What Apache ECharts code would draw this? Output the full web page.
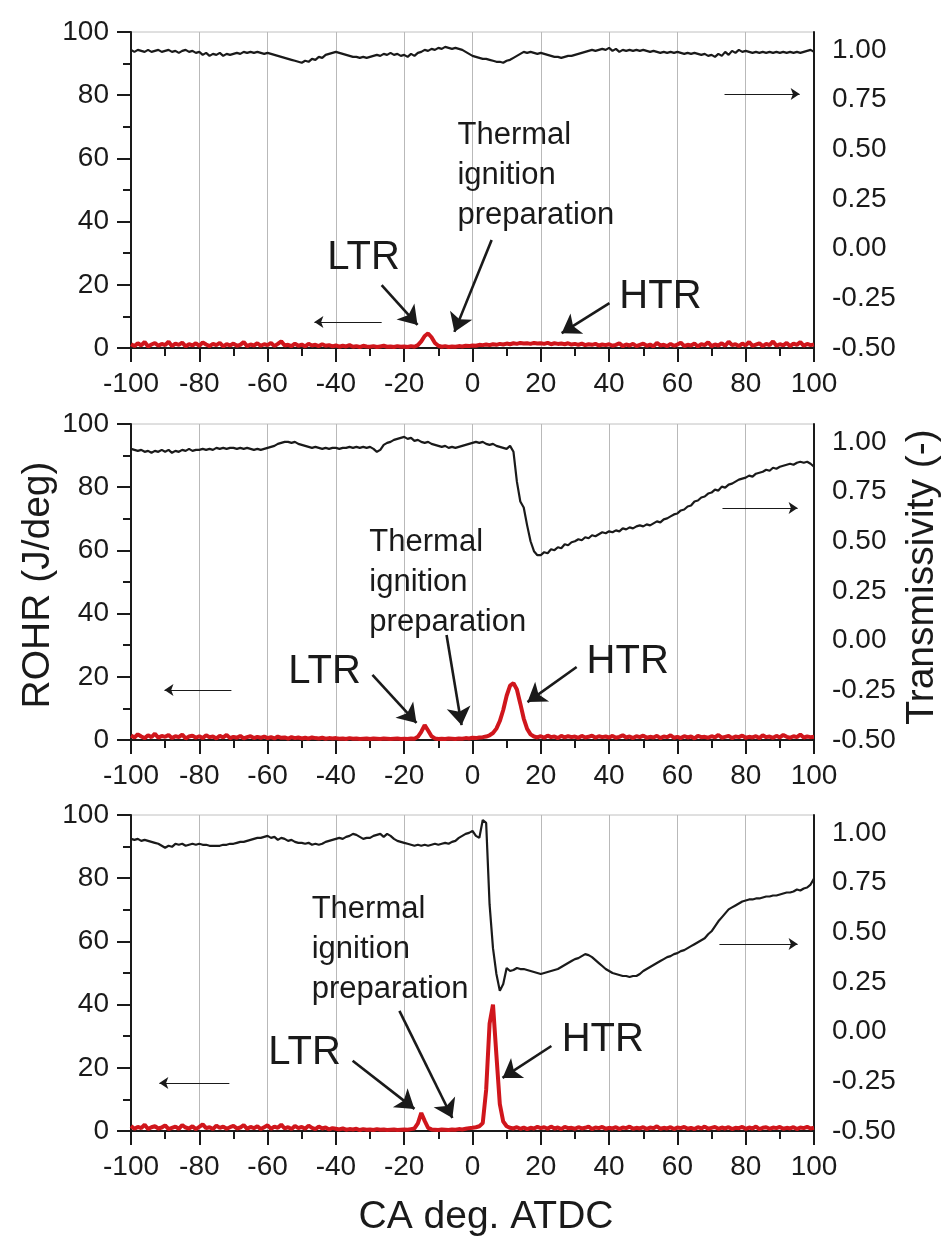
<!DOCTYPE html>
<html><head><meta charset="utf-8">
<script src="https://cdn.jsdelivr.net/npm/echarts/dist/echarts.min.js"></script>
<style>html,body{margin:0;padding:0;background:#fff}#c{width:951px;height:1244px}</style>
</head><body><div id="c"></div>
<script>
// Crank angle (deg ATDC)
const caDeg = [
-100,-99,-98,-97,-96,-95,-94,-93,-92,-91,
-90,-89,-88,-87,-86,-85,-84,-83,-82,-81,
-80,-79,-78,-77,-76,-75,-74,-73,-72,-71,
-70,-69,-68,-67,-66,-65,-64,-63,-62,-61,
-60,-59,-58,-57,-56,-55,-54,-53,-52,-51,
-50,-49,-48,-47,-46,-45,-44,-43,-42,-41,
-40,-39,-38,-37,-36,-35,-34,-33,-32,-31,
-30,-29,-28,-27,-26,-25,-24,-23,-22,-21,
-20,-19,-18,-17,-16,-15,-14,-13,-12,-11,
-10,-9,-8,-7,-6,-5,-4,-3,-2,-1,
0,1,2,3,4,5,6,7,8,9,
10,11,12,13,14,15,16,17,18,19,
20,21,22,23,24,25,26,27,28,29,
30,31,32,33,34,35,36,37,38,39,
40,41,42,43,44,45,46,47,48,49,
50,51,52,53,54,55,56,57,58,59,
60,61,62,63,64,65,66,67,68,69,
70,71,72,73,74,75,76,77,78,79,
80,81,82,83,84,85,86,87,88,89,
90,91,92,93,94,95,96,97,98,99,100];

// Panel 1 – ROHR (J/deg)
const rohr1 = [
1.2,0.6,1.5,0.8,1.9,0.5,1.1,1.6,0.7,1.3,
0.9,2.0,0.6,1.4,1.0,1.7,0.5,1.2,0.8,1.5,
0.7,1.8,1.1,0.6,1.3,0.9,1.6,0.5,1.2,0.8,
1.4,0.7,1.0,1.9,0.6,1.1,0.8,1.5,0.7,1.2,
0.9,1.6,0.6,1.3,2.1,0.8,1.0,0.6,1.4,0.7,
1.1,0.5,1.3,0.8,1.0,0.6,1.2,0.7,0.9,0.5,
0.8,0.4,0.7,0.5,0.9,0.4,0.6,0.3,0.7,0.5,
0.4,0.6,0.3,0.5,0.7,0.4,0.5,0.3,0.6,0.4,
0.5,0.3,0.6,0.4,0.9,2.1,3.8,4.6,3.4,1.6,
0.7,0.4,0.6,0.3,0.5,0.4,0.6,0.5,0.7,0.6,
0.8,0.7,1.0,0.9,1.1,0.9,1.2,1.0,1.3,1.1,
1.4,1.2,1.5,1.3,1.6,1.4,1.5,1.3,1.6,1.4,
1.5,1.3,1.6,1.2,1.5,1.3,1.4,1.2,1.5,1.1,
1.3,1.0,1.4,0.9,1.2,1.0,1.3,0.8,1.1,0.9,
1.2,0.7,1.0,1.5,0.6,1.1,0.8,1.3,0.6,1.0,
1.4,0.7,1.1,0.5,1.6,0.8,1.0,0.6,1.3,0.7,
1.1,1.7,0.6,1.0,0.8,1.4,0.5,1.2,0.9,1.8,
0.6,1.1,0.8,1.5,0.7,2.0,0.9,1.2,0.6,1.4,
0.8,1.9,0.7,1.1,1.5,0.6,1.3,0.9,2.1,0.7,
1.2,0.8,1.6,0.6,1.4,1.0,1.9,0.7,1.3,0.9,1.1];

// Panel 1 – Transmissivity (-)
const trans1 = [
1.00,0.99,1.00,0.995,0.99,1.00,0.99,0.995,1.00,0.99,
0.995,1.00,0.99,0.995,0.985,0.995,1.00,0.99,0.995,0.985,
0.99,0.975,0.985,0.97,0.98,0.975,0.985,0.97,0.98,0.975,
0.98,0.985,0.98,0.99,0.985,0.99,0.985,0.99,0.985,0.98,
0.985,0.98,0.975,0.97,0.965,0.96,0.955,0.95,0.945,0.94,
0.935,0.945,0.94,0.955,0.95,0.965,0.96,0.975,0.98,0.985,
0.99,0.985,0.98,0.975,0.97,0.965,0.965,0.96,0.965,0.96,
0.965,0.97,0.975,0.97,0.98,0.975,0.985,0.975,0.98,0.97,
0.975,0.965,0.98,0.97,0.985,0.99,1.00,0.995,1.005,1.00,
1.01,1.005,1.015,1.01,1.005,1.01,1.005,1.00,0.99,0.98,
0.97,0.965,0.96,0.955,0.955,0.95,0.945,0.94,0.94,0.935,
0.945,0.95,0.96,0.97,0.98,0.99,0.985,0.99,0.985,0.98,
0.985,0.98,0.975,0.97,0.965,0.965,0.96,0.965,0.97,0.97,
0.975,0.98,0.985,0.99,0.995,1.00,0.995,1.00,1.005,1.00,
1.01,0.995,1.005,0.99,1.00,0.995,1.00,0.995,1.00,0.995,
1.00,0.995,0.99,0.995,0.99,0.985,0.99,0.985,0.99,0.985,
0.99,0.985,0.98,0.985,0.98,0.985,0.98,0.975,0.98,0.97,
0.975,0.965,0.98,0.97,0.99,0.975,0.995,0.985,1.00,0.99,
0.995,0.99,0.985,0.99,0.985,0.99,0.985,0.99,0.985,0.99,
0.985,0.99,0.985,0.99,0.985,0.99,0.985,0.99,0.995,1.00,0.99];

// Panel 2 – ROHR (J/deg)
const rohr2 = [
1.4,0.8,1.8,1.1,0.6,1.5,0.9,2.0,0.7,1.3,
1.0,1.6,0.6,1.2,0.9,1.7,0.5,1.1,1.4,0.7,
1.2,0.6,1.5,0.9,1.1,0.5,1.3,0.8,1.6,0.6,
1.0,0.7,1.3,0.5,0.9,1.2,0.6,1.0,0.7,1.1,
0.6,0.9,0.5,1.1,0.7,0.8,0.4,0.9,0.6,0.8,
0.5,0.7,0.4,0.8,0.6,0.5,0.7,0.4,0.6,0.5,
0.6,0.4,0.5,0.3,0.6,0.4,0.5,0.3,0.4,0.5,
0.3,0.5,0.4,0.3,0.5,0.4,0.3,0.4,0.5,0.3,
0.4,0.3,0.5,0.4,1.0,2.6,4.7,3.0,1.2,0.5,
0.3,0.4,0.3,0.5,0.4,0.3,0.5,0.4,0.6,0.5,
0.7,0.6,0.8,0.9,1.1,1.5,2.2,3.6,6.0,9.5,
14.0,17.2,18.0,16.0,11.5,6.8,3.5,1.8,1.1,0.8,
1.2,0.7,1.4,0.9,1.1,0.6,1.3,0.8,1.2,0.9,
1.1,0.7,1.3,0.8,1.0,1.4,0.7,1.2,0.9,1.1,
0.8,1.3,0.7,1.0,1.5,0.8,1.1,0.6,1.2,0.9,
1.4,0.7,1.0,0.8,1.3,0.6,1.1,0.9,1.5,0.7,
1.0,0.6,1.2,0.8,1.1,0.5,1.3,0.9,1.0,0.7,
1.2,0.8,1.6,0.7,1.0,1.3,0.6,1.1,0.9,1.4,
0.7,1.0,0.8,1.2,0.6,1.5,0.9,1.1,0.7,1.3,
0.8,1.6,1.0,0.7,1.2,0.9,1.7,0.8,1.1,0.9,1.0];

// Panel 2 – Transmissivity (-)
const trans2 = [
0.965,0.96,0.955,0.96,0.95,0.955,0.945,0.955,0.95,0.96,
0.95,0.96,0.945,0.955,0.95,0.96,0.955,0.965,0.955,0.96,
0.96,0.965,0.96,0.965,0.96,0.97,0.965,0.97,0.965,0.97,
0.97,0.965,0.97,0.965,0.97,0.965,0.96,0.965,0.96,0.965,
0.97,0.975,0.98,0.99,0.995,1.00,1.00,0.995,1.00,0.99,
0.985,0.98,0.975,0.97,0.975,0.97,0.965,0.97,0.965,0.97,
0.97,0.965,0.97,0.97,0.975,0.97,0.975,0.97,0.975,0.97,
0.975,0.965,0.95,0.96,0.985,0.995,1.00,1.01,1.015,1.02,
1.025,1.015,1.02,1.005,1.01,1.00,0.995,1.00,0.99,0.985,
0.98,0.975,0.98,0.97,0.975,0.97,0.975,0.98,0.985,0.99,
0.995,1.00,0.995,1.00,0.99,0.985,0.99,0.98,0.975,0.97,
0.965,0.98,0.95,0.80,0.70,0.67,0.58,0.50,0.45,0.43,
0.43,0.445,0.44,0.46,0.455,0.47,0.465,0.485,0.48,0.495,
0.50,0.51,0.505,0.52,0.515,0.53,0.525,0.535,0.545,0.54,
0.55,0.545,0.555,0.55,0.565,0.56,0.57,0.565,0.575,0.58,
0.575,0.585,0.58,0.59,0.60,0.595,0.61,0.615,0.625,0.635,
0.64,0.655,0.66,0.675,0.68,0.70,0.705,0.72,0.725,0.74,
0.745,0.76,0.755,0.775,0.77,0.785,0.79,0.80,0.81,0.815,
0.82,0.83,0.825,0.84,0.845,0.85,0.86,0.855,0.87,0.865,
0.875,0.88,0.885,0.89,0.885,0.895,0.90,0.895,0.90,0.89,0.875];

// Panel 3 – ROHR (J/deg)
const rohr3 = [
1.6,0.7,1.3,0.9,2.0,0.6,1.2,1.5,0.8,1.1,
1.8,0.6,1.0,1.4,0.7,1.9,1.1,0.8,1.5,0.6,
1.3,2.1,0.9,1.2,0.6,1.7,1.0,1.4,0.7,1.2,
1.6,0.8,1.1,1.9,0.7,1.3,0.9,1.5,0.6,1.2,
1.8,0.7,1.4,1.0,2.0,0.8,1.2,0.6,1.6,0.9,
1.3,0.7,1.7,1.0,0.6,1.4,0.8,1.1,0.5,0.9,
0.7,0.5,0.8,0.4,0.6,0.5,0.7,0.3,0.6,0.4,
0.5,0.3,0.6,0.4,0.5,0.3,0.4,0.5,0.3,0.4,
0.5,0.4,0.6,0.8,2.4,5.7,3.2,1.0,0.5,0.4,
0.3,0.5,0.4,0.3,0.5,0.4,0.6,0.5,0.7,0.9,
1.0,1.2,1.5,2.5,13.0,34.0,40.0,24.0,8.5,3.0,
1.5,1.0,0.8,1.2,0.7,1.1,0.6,1.0,0.8,1.3,
0.9,1.2,0.7,1.4,0.8,1.1,0.6,1.3,0.9,1.0,
0.7,1.2,0.8,1.0,1.4,0.6,1.1,0.9,1.3,0.7,
1.0,0.8,1.2,0.6,1.1,0.9,1.4,0.7,1.0,0.8,
1.2,0.6,1.1,0.9,1.5,0.7,1.0,0.8,1.2,0.6,
1.1,0.9,1.3,0.7,1.0,0.6,1.2,0.8,1.4,0.7,
1.0,1.3,0.7,1.1,0.8,1.2,0.6,1.0,0.9,1.3,
0.7,1.1,0.8,1.4,0.6,1.0,1.2,0.7,1.1,0.9,
1.3,0.7,1.0,0.8,1.2,0.6,1.1,0.9,1.3,0.8,1.0];

// Panel 3 – Transmissivity (-)
const trans3 = [
0.97,0.965,0.97,0.96,0.965,0.96,0.955,0.95,0.945,0.935,
0.925,0.935,0.93,0.945,0.94,0.945,0.935,0.94,0.945,0.94,
0.945,0.94,0.94,0.935,0.935,0.935,0.935,0.94,0.94,0.945,
0.945,0.95,0.955,0.955,0.96,0.965,0.97,0.975,0.975,0.98,
0.985,0.975,0.98,0.965,0.975,0.97,0.96,0.965,0.955,0.95,
0.95,0.945,0.95,0.94,0.945,0.94,0.945,0.955,0.96,0.965,
0.97,0.975,0.97,0.98,0.985,0.995,0.99,0.98,0.97,0.975,
0.975,0.985,0.99,0.995,0.98,0.995,0.985,0.97,0.96,0.955,
0.95,0.945,0.94,0.935,0.94,0.935,0.94,0.935,0.94,0.945,
0.94,0.945,0.95,0.945,0.955,0.96,0.975,0.985,0.995,1.00,
1.01,0.985,0.975,1.065,1.05,0.64,0.42,0.29,0.205,0.24,
0.32,0.305,0.31,0.32,0.315,0.315,0.31,0.305,0.30,0.295,
0.29,0.295,0.30,0.305,0.31,0.315,0.325,0.335,0.345,0.355,
0.365,0.37,0.38,0.39,0.385,0.375,0.36,0.345,0.33,0.315,
0.305,0.295,0.29,0.285,0.28,0.28,0.275,0.28,0.28,0.29,
0.305,0.315,0.325,0.335,0.345,0.355,0.365,0.375,0.38,0.39,
0.395,0.405,0.41,0.42,0.43,0.44,0.45,0.46,0.47,0.49,
0.505,0.53,0.555,0.575,0.595,0.615,0.625,0.635,0.645,0.655,
0.66,0.665,0.665,0.67,0.67,0.675,0.68,0.68,0.685,0.685,
0.69,0.695,0.70,0.70,0.705,0.715,0.71,0.72,0.725,0.74,0.77];

const xTicks = { min: -100, max: 100, interval: 20 };
const rohrTicks = { min: 0, max: 100, interval: 20 };
const transTicks = { min: -0.5, max: 1.09, interval: 0.25 };

// Annotations (data coordinates on the ROHR axis)
const notes = [
  { thermal: [-4.4, 73.7], ltr: [-31.9, 28.5], htr: [43.0, 16.1],
    bold: [[[-26.6,19.9],[-16.1,7.3]], [[5.6,34.2],[-5.3,5.1]], [[40.1,14.2],[26.1,4.7]]],
    thin: [[[-26.6,8.2],[-46.3,8.2]], [[73.8,80.4],[95.8,80.4]]] },
  { thermal: [-30.2, 69.0], ltr: [-43.3, 21.5], htr: [33.4, 24.7],
    bold: [[[-29.3,20.6],[-16.4,5.4]], [[-7.6,33.2],[-3.2,4.7]], [[30.5,23.1],[16.1,12.0]]],
    thin: [[[-70.6,15.8],[-90.2,15.8]], [[73.2,73.4],[95.2,73.4]]] },
  { thermal: [-47.1, 76.3], ltr: [-49.2, 24.7], htr: [26.1, 28.8],
    bold: [[[-35.1,22.2],[-17.0,7.0]], [[-21.4,38.0],[-5.9,4.1]], [[23.1,26.9],[8.8,16.8]]],
    thin: [[[-71.2,15.2],[-91.7,15.2]], [[72.3,59.2],[95.2,59.2]]] }
];

const rohrSets = [rohr1, rohr2, rohr3];
const transSets = [trans1, trans2, trans3];

const FONT = '"Liberation Sans", Arial, Helvetica, sans-serif';
const INK = '#1a1a1a';
const RED = '#d0161c';
const gridTops = [32, 424, 815];
const gridH = 316;

const chart = echarts.init(document.getElementById('c'), null, { renderer: 'canvas' });

const grids = [], xAxes = [], yAxes = [], series = [];
gridTops.forEach((top, g) => {
  grids.push({ left: 131, right: 137, top: top, height: gridH, show: true,
    borderColor: '#c0c0c0', borderWidth: 1, backgroundColor: 'transparent',
    containLabel: false, outerBoundsMode: 'none' });
  xAxes.push({ type: 'value', gridIndex: g, min: xTicks.min, max: xTicks.max, interval: xTicks.interval,
    axisLine: { show: true, onZero: false, lineStyle: { color: INK, width: 2 } },
    axisTick: { show: true, inside: false, length: 14, lineStyle: { color: INK, width: 2 } },
    minorTick: { show: true, splitNumber: 2, length: 8, lineStyle: { color: INK, width: 2 } },
    splitLine: { show: true, lineStyle: { color: '#b9b9b9', width: 1 } },
    axisLabel: { fontSize: 28, color: INK, fontFamily: FONT, margin: 22 } });
  yAxes.push({ type: 'value', gridIndex: g, position: 'left', min: rohrTicks.min, max: rohrTicks.max, interval: rohrTicks.interval,
    axisLine: { show: true, onZero: false, lineStyle: { color: INK, width: 2 } },
    axisTick: { show: true, inside: false, length: 14, lineStyle: { color: INK, width: 2 } },
    minorTick: { show: true, splitNumber: 2, length: 8, lineStyle: { color: INK, width: 2 } },
    splitLine: { show: false },
    axisLabel: { fontSize: 28, color: INK, fontFamily: FONT, margin: 22 } });
  yAxes.push({ type: 'value', gridIndex: g, position: 'right', min: transTicks.min, max: transTicks.max, interval: transTicks.interval,
    alignTicks: false,
    axisLine: { show: true, onZero: false, lineStyle: { color: INK, width: 2 } },
    axisTick: { show: false }, minorTick: { show: false },
    splitLine: { show: false },
    axisLabel: { fontSize: 28, color: INK, fontFamily: FONT, margin: 18,
      formatter: v => (v > 1.0001 ? '' : v.toFixed(2)) } });

  const n = notes[g];
  const mlData = [];
  n.bold.forEach(seg => mlData.push([
    { coord: seg[0], symbol: 'none', lineStyle: { width: 2.6, color: INK } },
    { coord: seg[1], symbol: 'arrow', symbolSize: 18, lineStyle: { width: 2.6, color: INK } }]));
  n.thin.forEach(seg => mlData.push([
    { coord: seg[0], symbol: 'none', lineStyle: { width: 1.2, color: INK } },
    { coord: seg[1], symbol: 'arrow', symbolSize: 9, lineStyle: { width: 1.2, color: INK } }]));

  series.push({ type: 'line', name: 'Transmissivity ' + (g + 1), xAxisIndex: g, yAxisIndex: 2 * g + 1,
    data: caDeg.map((x, i) => [x, transSets[g][i]]), showSymbol: false, symbol: 'none',
    lineStyle: { color: INK, width: 2.2 }, z: 3, animation: false, silent: true });
  series.push({ type: 'line', name: 'ROHR ' + (g + 1), xAxisIndex: g, yAxisIndex: 2 * g,
    data: caDeg.map((x, i) => [x, rohrSets[g][i]]), showSymbol: false, symbol: 'none', clip: false,
    lineStyle: { color: RED, width: 4 }, z: 4, animation: false, silent: true,
    markLine: { silent: true, animation: false, symbol: ['none', 'arrow'], label: { show: false },
      lineStyle: { color: INK, type: 'solid' }, itemStyle: { color: INK }, emphasis: { disabled: true },
      data: mlData } });
});

chart.setOption({
  backgroundColor: '#ffffff', animation: false,
  grid: grids, xAxis: xAxes, yAxis: yAxes, series: series
});

// Text annotations placed through the axes' own conversion
const gfx = [];
notes.forEach((n, g) => {
  const finder = { xAxisIndex: g, yAxisIndex: 2 * g };
  const pT = chart.convertToPixel(finder, n.thermal);
  const pL = chart.convertToPixel(finder, n.ltr);
  const pH = chart.convertToPixel(finder, n.htr);
  gfx.push({ type: 'text', x: pT[0], y: pT[1], z: 10, silent: true,
    style: { text: 'Thermal\nignition\npreparation', font: '31px ' + FONT, fill: INK,
      align: 'left', verticalAlign: 'top', lineHeight: 40 } });
  gfx.push({ type: 'text', x: pL[0], y: pL[1], z: 10, silent: true,
    style: { text: 'LTR', font: '40px ' + FONT, fill: INK, align: 'center', verticalAlign: 'middle' } });
  gfx.push({ type: 'text', x: pH[0], y: pH[1], z: 10, silent: true,
    style: { text: 'HTR', font: '40px ' + FONT, fill: INK, align: 'left', verticalAlign: 'middle' } });
});
gfx.push({ type: 'text', x: 38, y: 585, rotation: Math.PI / 2, silent: true,
  style: { text: 'ROHR (J/deg)', font: '39px ' + FONT, fill: INK, align: 'center', verticalAlign: 'middle' } });
gfx.push({ type: 'text', x: 922, y: 577, rotation: Math.PI / 2, silent: true,
  style: { text: 'Transmissivity (-)', font: '39px ' + FONT, fill: INK, align: 'center', verticalAlign: 'middle' } });
gfx.push({ type: 'text', x: 486, y: 1217, silent: true,
  style: { text: 'CA deg. ATDC', font: '39px ' + FONT, fill: INK, align: 'center', verticalAlign: 'middle' } });

chart.setOption({ graphic: gfx });
</script>
</body></html>
